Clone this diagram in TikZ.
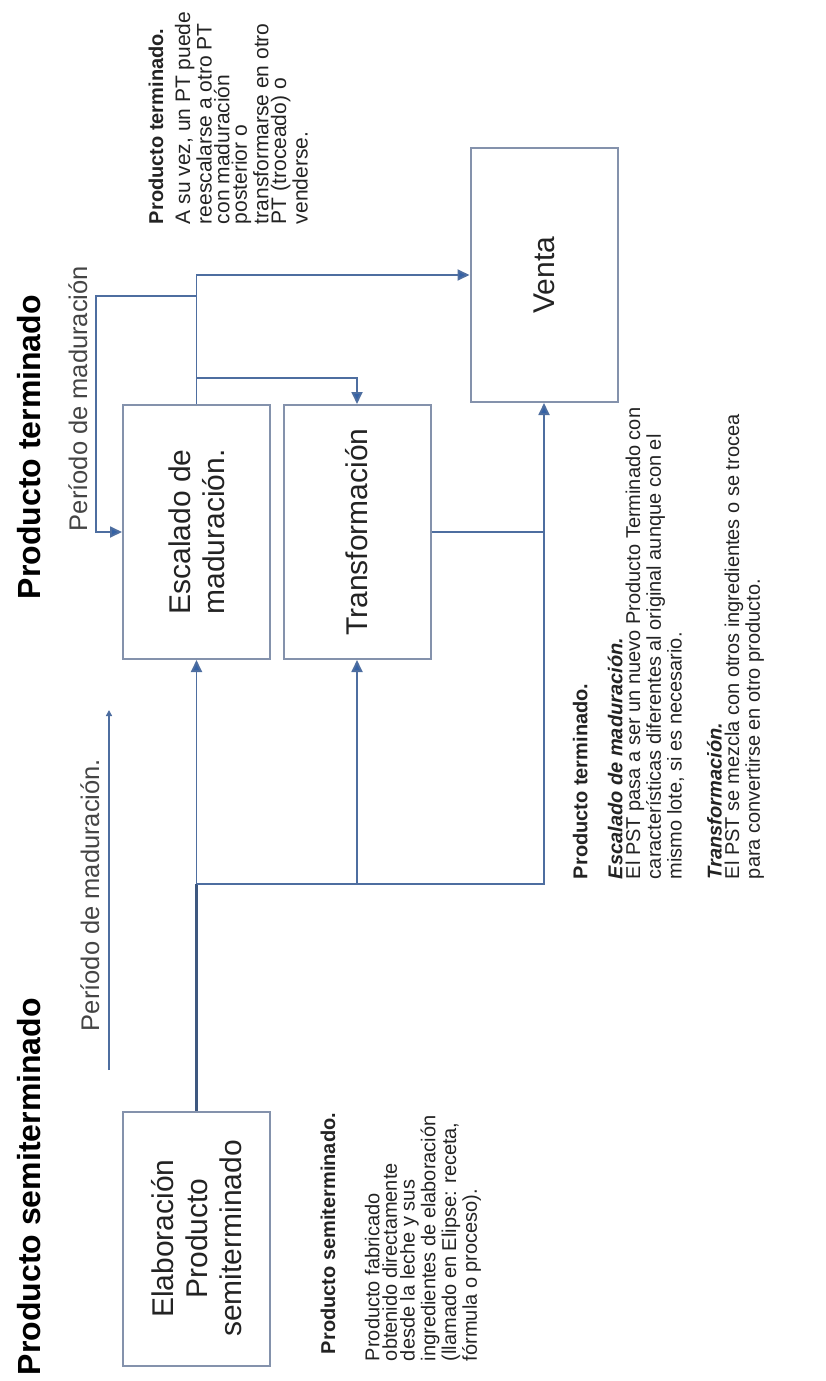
\documentclass[tikz,border=0pt]{standalone}
\usepackage{fontspec}
\setmainfont{Liberation Sans}
\usetikzlibrary{arrows.meta}
\usetikzlibrary{positioning}
\definecolor{flowblue}{RGB}{78,110,160}
\definecolor{tipblue}{RGB}{52,98,166}
\definecolor{boxgray}{RGB}{132,146,172}
\definecolor{inkgray}{RGB}{35,35,35}
\tikzset{
every picture/.style={line width=0.9pt, x=0.5pt, y=-0.5pt},
%%%%%%%%%%  Node styles
proc_box/.style={draw=boxgray, line width=1pt, rectangle, rotate=90,
                 align=center, minimum width=127pt, minimum height=73.5pt,
                 inner sep=0pt, text=inkgray,
                 font=\fontsize{15}{17}\selectfont},
big_title/.style={rotate=90, anchor=base west, inner sep=0pt, text=black,
                  font=\fontsize{16}{19}\selectfont\bfseries},
period_label/.style={rotate=90, anchor=base west, inner sep=0pt,
                     text=inkgray!85, font=\fontsize{12.75}{15}\selectfont},
side_head/.style={rotate=90, anchor=base west, inner sep=0pt, text=inkgray,
                  font=\fontsize{10}{8.8}\selectfont\bfseries},
side_text/.style={rotate=90, anchor=north west, inner sep=0pt, align=left,
                  text=inkgray, font=\fontsize{10}{8.8}\selectfont},
%%%% different line styles:
flow/.style={draw=flowblue},
trunk/.style={draw=flowblue!80!black, line width=1.3pt},
flow_arrow/.style={draw=flowblue,
                   -{Triangle[length=6pt,width=5.5pt,fill=tipblue]}},
small_arrow/.style={draw=flowblue,
                    -{Triangle[length=3pt,width=3pt,fill=tipblue]}}
}

\begin{document}
\begin{tikzpicture}
\useasboundingbox (0,0) rectangle (825,1381);
%% titles of the two stages
\node[big_title] (t_semi) at (40,1376) {Producto semiterminado};
\node[big_title] (t_term) at (40,600) {Producto terminado};
%% process boxes
\node[proc_box] (elab) at (196.5,1238.5) {Elaboración\\Producto\\semiterminado};
\node[proc_box] (esc) at (196.5,532) {Escalado de\\maduración.};
\node[proc_box] (trans) at (357,532) {Transformación};
\node[proc_box] (venta) at (544,275) {Venta};
%% branch points
\coordinate (jn) at (196.5,884);
\coordinate (tr_in) at (196.5,378);
\coordinate (fb_a) at (196.5,296);
\coordinate (fb_b) at (96,296);
\coordinate (pm_a) at (109,1070);
\coordinate (pm_b) at (109,710);
%% from the semiterminado box up to the three targets
\draw[trunk] (elab.east) -- (jn);
\draw[flow_arrow] (jn) -- (esc.west);
\draw[flow_arrow] (jn) -| (trans.west);
\draw[flow_arrow] (jn) -| (venta.west);
\draw[flow] (trans.south) -- (trans.south -| venta.west);
%% from the escalado box: to venta, to transformacion, back to itself
\draw[flow_arrow] (esc.east) |- (venta.north);
\draw[flow_arrow] (tr_in) -| (trans.east);
\draw[flow_arrow] (fb_a) -- (fb_b) |- (esc.north);
\draw[small_arrow] (pm_a) -- (pm_b);
%% labels of the maturing periods
\node[period_label] (per_top) at (87,532) {Período de maduración};
\node[period_label] (per_low) at (99,1032) {Período de maduración.};
%%%%%%%%%%%%%%%%%%%%%%%%%%%%%%%%%%%%%%%%%%%%%%%%%%%%
%% side notes
\node[side_head] (n_term_h) at (163,225) {Producto terminado.};
\node[side_text, font=\fontsize{10.5}{8.8}\selectfont] (n_term) at (174,225)
{A su vez, un PT puede\\
reescalarse a otro PT\\con maduración\\posterior o\\
transformarse en otro\\PT (troceado) o\\venderse.};
\node[side_head] (n_semi_h) at (335,1355) {Producto semiterminado.};
\node[side_text] (n_semi) at (364,1362) {Producto fabricado\\
obtenido directamente\\desde la leche y sus\\ingredientes de elaboración\\
(llamado en Elipse: receta,\\fórmula o proceso).};
\node[side_text] (n_steps) at (572,880) {\textbf{Producto terminado.}\\[8.7pt]
\textbf{\textit{Escalado de maduración.}}\\
El PST pasa a ser un nuevo Producto Terminado con\\
características diferentes al original aunque con el\\
mismo lote, si es necesario.\\[11.2pt]
\textbf{\textit{Transformación.}}\\
El PST se mezcla con otros ingredientes o se trocea\\
para convertirse en otro producto.};
\end{tikzpicture}
\end{document}
